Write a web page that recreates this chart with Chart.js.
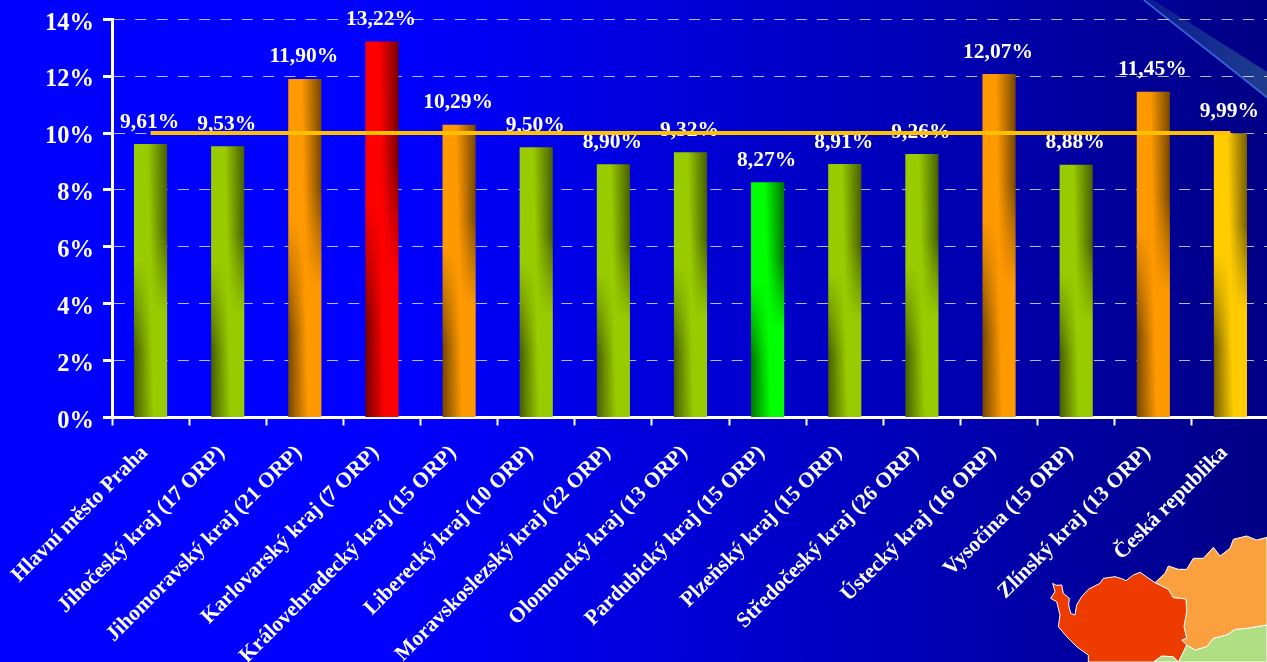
<!DOCTYPE html>
<html lang="cs">
<head>
<meta charset="utf-8">
<title>Graf</title>
<style>
html,body{margin:0;padding:0;width:1267px;height:662px;overflow:hidden;background:#0000ff}
#wrap{position:relative;width:1267px;height:662px;overflow:hidden}
canvas{display:block;position:absolute;left:0;top:0}
</style>
<script src="https://cdn.jsdelivr.net/npm/chart.js@4/dist/chart.umd.min.js"></script>
</head>
<body>
<div id="wrap"><canvas id="c" width="1269" height="662"></canvas></div>
<script>
const categories = ["Hlavní město Praha","Jihočeský kraj (17 ORP)","Jihomoravský kraj (21 ORP)","Karlovarský kraj (7 ORP)","Královehradecký kraj (15 ORP)","Liberecký kraj (10 ORP)","Moravskoslezský kraj (22 ORP)","Olomoucký kraj (13 ORP)","Pardubický kraj (15 ORP)","Plzeňský kraj (15 ORP)","Středočeský kraj (26 ORP)","Ústecký kraj (16 ORP)","Vysočina (15 ORP)","Zlínský kraj (13 ORP)","Česká republika"];
const values = [9.61,9.53,11.90,13.22,10.29,9.50,8.90,9.32,8.27,8.91,9.26,12.07,8.88,11.45,9.99];
const average = [10,10,10,10,10,10,10,10,10,10,10,10,10,10,10];
const barColors = ["#99cc00","#99cc00","#ff9900","#ff0000","#ff9900","#99cc00","#99cc00","#99cc00","#00ff00","#99cc00","#99cc00","#ff9900","#99cc00","#ff9900","#ffcc00"];

const FONT = '"Liberation Serif","Times New Roman",serif';
const W = 1269, H = 662;

// decorative map, in 3x coordinates relative to (1040,530)
const mapRed = [38,160,48,166,65,165,70,190,88,205,86,225,92,250,105,255,110,225,125,200,145,178,180,160,190,145,225,140,245,146,258,152,280,135,300,127,345,158,385,178,400,203,438,207,440,245,432,290,440,325,425,330,440,345,415,396,400,380,365,378,340,396,145,396,145,375,110,350,80,320,55,290,60,255,50,215,32,205,45,185];
const mapOrange = [345,158,375,130,385,108,415,118,440,118,460,85,490,85,520,52,540,78,570,55,580,28,620,18,650,30,681,22,681,285,620,295,585,298,560,315,520,325,500,350,465,360,440,345,425,330,440,325,432,290,440,245,438,207,400,203,385,178];
const mapGreen = [681,285,681,396,340,396,365,378,400,380,415,396,440,345,465,360,500,350,520,325,560,315,585,298,620,295];

function tracePoly(ctx, p){
  ctx.beginPath();
  ctx.moveTo(p[0],p[1]);
  for(let i=2;i<p.length;i+=2) ctx.lineTo(p[i],p[i+1]);
  ctx.closePath();
}

const backdrop = {
  id:'backdrop',
  beforeDraw(chart){
    const ctx = chart.ctx;
    ctx.save();
    const g = ctx.createLinearGradient(0,0,1267,0);
    g.addColorStop(0,'#0000ff');
    g.addColorStop(0.31,'#0000ff');
    g.addColorStop(1,'#000085');
    ctx.fillStyle = g;
    ctx.fillRect(0,0,W,H);
    // streak
    ctx.save();
    ctx.translate(1130,0);
    ctx.scale(1/3,1/3);
    const s = ctx.createLinearGradient(60,0,411,0);
    s.addColorStop(0,'#0a1c94');
    s.addColorStop(1,'#1f3d8c');
    ctx.fillStyle = s;
    tracePoly(ctx,[48,0,70,0,411,215,411,295]);
    ctx.fill();
    ctx.strokeStyle = '#3b66dd';
    ctx.lineWidth = 5;
    ctx.beginPath(); ctx.moveTo(42,0); ctx.lineTo(411,292); ctx.stroke();
    ctx.restore();
    // map
    ctx.save();
    ctx.translate(1040,530);
    ctx.scale(1/3,1/3);
    ctx.strokeStyle = '#ffffff';
    ctx.lineWidth = 3;
    ctx.lineJoin = 'round';
    [[mapGreen,'#b0de82'],[mapOrange,'#fba03e'],[mapRed,'#ee3c00']].forEach(([p,c])=>{
      tracePoly(ctx,p); ctx.fillStyle=c; ctx.fill(); ctx.stroke();
    });
    ctx.restore();
    ctx.restore();
  }
};

function hexRgb(h){return [1,3,5].map(i=>parseInt(h.substr(i,2),16));}
function shade(rgb,k){return 'rgb('+rgb.map(v=>Math.round(v*k)).join(',')+')';}
function clamp01(v){return Math.max(0,Math.min(1,v));}

// A bar fill whose shaded side moves from the right edge (top) to the left edge (bottom).
function barFill(context){
  const chart = context.chart, i = context.dataIndex;
  const xs = chart.scales.x, ys = chart.scales.y;
  if(!xs || !ys || !isFinite(xs.getPixelForValue(i)) ) return barColors[i];
  const cx = xs.getPixelForValue(i), half = 17;
  const top = Math.floor(ys.getPixelForValue(values[i])), base = Math.ceil(ys.getPixelForValue(0));
  if(!(base>top)) return barColors[i];
  const cv = document.createElement('canvas');
  cv.width = W; cv.height = H;
  const c = cv.getContext('2d');
  const rgb = hexRgb(barColors[i]);
  const dark = 0.45;
  for(let y=top;y<base;y++){
    const t = (y-top)/(base-top);
    const r = clamp01((0.62-t)/0.3), l = clamp01((t-0.42)/0.33);
    const g = c.createLinearGradient(cx-half,0,cx+half,0);
    g.addColorStop(0, shade(rgb,1-(1-dark)*l));
    g.addColorStop(0.4+0.2*t, shade(rgb,1));
    g.addColorStop(1, shade(rgb,1-(1-dark)*r));
    c.fillStyle = g;
    c.fillRect(cx-half-1,y,2*half+2,1);
  }
  return chart.ctx.createPattern(cv,'no-repeat');
}

const valueLabels = {
  id:'valueLabels',
  beforeDatasetDraw(chart,args){
    if(args.index!==1) return;
    const ctx = chart.ctx, meta = chart.getDatasetMeta(0);
    ctx.save();
    ctx.font = 'bold 21.5px '+FONT;
    ctx.fillStyle = '#ffffff';
    ctx.textAlign = 'center';
    ctx.textBaseline = 'middle';
    meta.data.forEach((el,i)=>{
      ctx.fillText(values[i].toFixed(2).replace('.',',')+'%', el.x-1, el.y-22);
    });
    ctx.restore();
  }
};

// y tick labels sit a little below their tick marks
function lowerLabels(s){
  if(s._lowered) return;
  s._lowered = true;
  const orig = s._computeLabelItems;
  s._computeLabelItems = function(area){
    const items = orig.call(this,area);
    items.forEach(it=>{it.textOffset += 4;});
    return items;
  };
}

new Chart(document.getElementById('c'),{
  data:{
    labels:categories,
    datasets:[
      {type:'bar',data:values,backgroundColor:barFill,barPercentage:0.43,categoryPercentage:1,order:2},
      {type:'line',data:average,borderColor:'#ffc000',borderWidth:4,pointRadius:0,tension:0,order:1}
    ]
  },
  plugins:[backdrop,valueLabels],
  options:{
    responsive:false,
    animation:false,
    layout:{padding:{top:19.2,left:0,right:0,bottom:0}},
    plugins:{legend:{display:false},tooltip:{enabled:false},title:{display:false}},
    scales:{
      x:{
        offset:true,
        border:{display:true,color:'#ffffff',width:3},
        grid:{display:true,drawOnChartArea:false,drawTicks:true,tickLength:8,tickColor:'#ffffff',tickWidth:2,offset:true},
        ticks:{color:'#ffffff',font:{family:FONT,weight:'bold',size:21.5},minRotation:45,maxRotation:45,autoSkip:false,padding:15,labelOffset:-6},
        afterFit(s){s.height=662-417.5;s.paddingLeft=0;s.paddingRight=0;}
      },
      y:{
        min:0,max:14,
        border:{display:true,color:'#ffffff',width:3,dash:[11,10.3]},
        grid:{color:'rgba(255,255,255,0.72)',lineWidth:1,tickColor:'#ffffff',tickWidth:3,tickLength:9,tickBorderDash:[]},
        ticks:{color:'#ffffff',font:{family:FONT,weight:'bold',size:24.5},stepSize:2,padding:9,callback:v=>v+'%'},
        afterFit(s){s.width=112;s.paddingTop=0;s.paddingBottom=0;lowerLabels(s);}
      }
    }
  }
});
</script>
</body>
</html>
